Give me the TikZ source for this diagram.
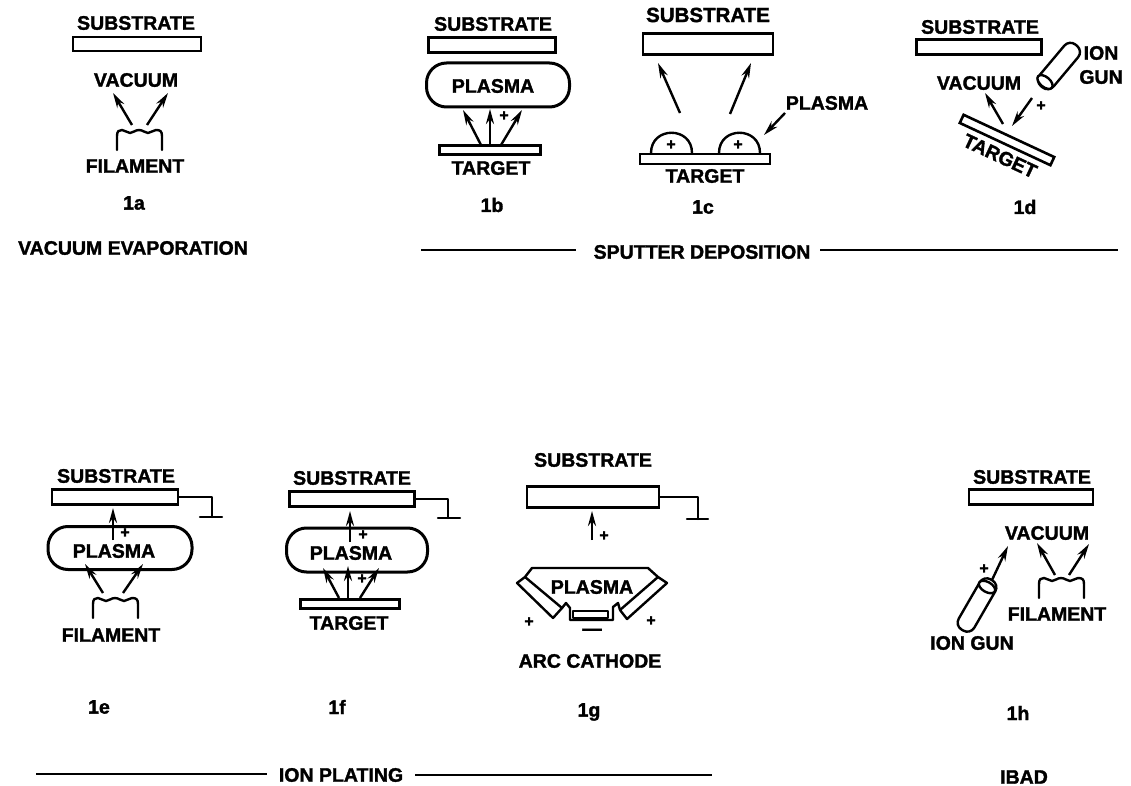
\documentclass[tikz,border=0pt]{standalone}
\usepackage{fontspec}
\setmainfont{Liberation Sans}[BoldFeatures={FakeBold=1.6}]
\usetikzlibrary{arrows.meta,shapes.geometric}
\newcommand{\arrw}[5]{\coordinate (#1t) at (#2,#3);\coordinate (#1h) at (#4,#5);\draw[flow] (#1t) -- (#1h);}
\newcommand{\lab}[4][]{\node[lbl,#1] (#2) at (#3) {#4};}
\newcommand{\plusm}[2]{\node[plusmark] (#1) at (#2) {+};}
\tikzset{
 x=1pt,y=-1pt,
 lbl/.style={font=\fontsize{19.5}{20}\selectfont\bfseries,inner sep=0pt,text=black},
 plusmark/.style={font=\fontsize{16}{16}\selectfont\bfseries,inner sep=0pt},
 bar/.style={draw=black,line width=2.6pt,fill=white,inner sep=0pt},
 plasmabox/.style={draw=black,line width=3pt,rounded corners=20pt,inner sep=0pt},
 flow/.style={line width=2.4pt,-{Stealth[length=15pt,width=8pt]}},
 wire/.style={line width=2.4pt,line cap=round,line join=round},
 rule/.style={line width=2pt},
 gunbody/.style={draw=black,line width=2.4pt,fill=white,rounded corners=8pt,inner sep=0pt,minimum height=18pt},
 gunend/.style={draw=black,line width=2.4pt,fill=white,ellipse,inner sep=0pt,minimum width=10pt,minimum height=18pt},
 coil/.pic={\draw[wire] (0,0) -- (0,-14) .. controls (0,-19) and (2,-20) .. (5,-20)
   .. controls (8,-20) and (10,-17) .. (13,-17) .. controls (16,-17) and (18,-20) .. (22,-20)
   .. controls (26,-20) and (28,-17) .. (31,-17) .. controls (34,-17) and (36,-20) .. (39,-20)
   .. controls (43,-20) and (45,-19) .. (45,-14) -- (45,0);}
}
\begin{document}
\begin{tikzpicture}
\useasboundingbox[fill=white] (0,0) rectangle (1131,786);
% 1a
\lab{a-s}{136,23}{SUBSTRATE}
\node[bar,minimum width=128pt,minimum height=14pt] (a-b) at (137,44) {};
\lab{a-v}{136,80}{VACUUM}
\arrw{aa}{132}{125}{113}{93}
\arrw{ab}{147}{125}{168}{93}
\pic at (117,150) {coil};
\lab{a-f}{135,166}{FILAMENT}
\lab{a-n}{134,203}{1a}
\lab{a-g}{133,248}{VACUUM EVAPORATION}
% 1b
\lab{b-s}{493,24}{SUBSTRATE}
\node[bar,minimum width=127pt,minimum height=15pt] (b-b) at (492,45) {};
\node[plasmabox,minimum width=143pt,minimum height=44pt] (b-p) at (498,85) {};
\lab{b-pl}{493,86}{PLASMA}
\arrw{ba}{481}{145}{463}{110}
\arrw{bb}{490}{145}{490}{109}
\arrw{bc}{501}{145}{522}{110}
\plusm{b-plus}{504,116}
\node[bar,minimum width=101pt,minimum height=9pt] (b-t) at (490,150) {};
\lab{b-tl}{491,168}{TARGET}
\lab{b-n}{492,205}{1b}
% 1c
\node[lbl,font=\fontsize{20.5}{21}\selectfont\bfseries] (c-s) at (708,15) {SUBSTRATE};
\node[bar,minimum width=130pt,minimum height=21pt] (c-b) at (708,44) {};
\arrw{ca}{680}{113}{658}{63}
\arrw{cb}{730}{114}{751}{63}
\draw[wire] (651,153) .. controls (651,126) and (692,126) .. (692,153);
\draw[wire] (719,153) .. controls (719,126) and (760,126) .. (760,153);
\plusm{c-p1}{671,145}
\plusm{c-p2}{738,145}
\node[bar,minimum width=130pt,minimum height=10pt] (c-t) at (705,159) {};
\lab{c-tl}{705,176}{TARGET}
\lab{c-pl}{827,103}{PLASMA}
\arrw{cc}{785}{113}{764}{135}
\lab{c-n}{703,207}{1c}
% 1d
\lab{d-s}{980,27}{SUBSTRATE}
\node[bar,minimum width=125pt,minimum height=15pt] (d-b) at (979,47) {};
\node[gunbody,rotate=50,minimum width=54pt] (d-g) at (1059,66) {};
\node[gunend,rotate=50] (d-e) at (1045,82) {};
\lab{d-io}{1101,53}{ION}
\lab{d-gu}{1101,77}{GUN}
\lab{d-v}{979,83}{VACUUM}
\arrw{da}{1003}{124}{985}{93}
\arrw{db}{1032}{98}{1012}{126}
\plusm{d-plus}{1041,106}
\node[bar,rotate=-25,minimum width=100pt,minimum height=9pt] (d-t) at (1007,140) {};
\lab[rotate=-25]{d-tl}{1000,156}{TARGET}
\lab{d-n}{1025,207}{1d}
% sputter group
\lab{sd}{702,252}{SPUTTER DEPOSITION}
\coordinate (sd-l) at (421,250);
\coordinate (sd-r) at (1118,250);
\draw[rule] (sd-l) -- (576,250);
\draw[rule] (820,250) -- (sd-r);
% 1e
\lab{e-s}{116,476}{SUBSTRATE}
\node[bar,minimum width=126pt,minimum height=15pt] (e-b) at (115,497) {};
\coordinate (e-g) at (212,517);
\draw[wire] (e-b.east) -| (e-g);
\draw[wire] (200,517) -- (222,517);
\node[plasmabox,minimum width=144pt,minimum height=43pt] (e-p) at (120,548) {};
\lab{e-pl}{114,551}{PLASMA}
\arrw{ea}{113}{540}{113}{508}
\plusm{e-plus}{125,533}
\arrw{eb}{103}{593}{85}{564}
\arrw{ec}{123}{593}{143}{564}
\pic at (93,618) {coil};
\lab{e-f}{111,635}{FILAMENT}
\lab{e-n}{99,707}{1e}
% 1f
\lab{f-s}{352,478}{SUBSTRATE}
\node[bar,minimum width=125pt,minimum height=15pt] (f-b) at (352,499) {};
\coordinate (f-g) at (448,518);
\draw[wire] (f-b.east) -| (f-g);
\draw[wire] (438,518) -- (460,518);
\node[plasmabox,minimum width=141pt,minimum height=44pt] (f-p) at (357,550) {};
\lab{f-pl}{351,553}{PLASMA}
\arrw{fa}{350}{542}{350}{511}
\plusm{f-plus}{363,535}
\arrw{fb}{339}{598}{323}{568}
\arrw{fc}{348}{598}{348}{566}
\arrw{fd}{360}{598}{379}{568}
\plusm{f-plus2}{362,579}
\node[bar,minimum width=99pt,minimum height=9pt] (f-t) at (350,604) {};
\lab{f-tl}{349,623}{TARGET}
\lab{f-n}{337,707}{1f}
% 1g
\lab{g-s}{593,460}{SUBSTRATE}
\node[bar,minimum width=132pt,minimum height=21pt] (g-b) at (593,497) {};
\coordinate (g-g) at (698,519);
\draw[wire] (g-b.east) -| (g-g);
\draw[wire] (687,519) -- (708,519);
\arrw{ga}{592}{540}{592}{511}
\plusm{g-plus}{604,536}
\draw[wire] (525,577) -- (532,568) -- (648,568) -- (658,577);
\draw[wire] (517,583) -- (525,577) -- (562,608) -- (553,618) -- cycle;
\draw[wire] (667,583) -- (658,577) -- (620,610) -- (627,619) -- cycle;
\draw[wire] (562,608) -- (566,603) -- (570,608) -- (570,620) -- (613,620) -- (613,607) -- (618,603) -- (620,610);
\draw[wire] (573,611) rectangle (608,618);
\lab{g-pl}{592,587}{PLASMA}
\plusm{g-p1}{529,622}
\plusm{g-p2}{651,621}
\lab{g-m}{592,632}{—}
\lab{g-a}{590,661}{ARC CATHODE}
\lab{g-n}{589,712}{1g}
% ion plating
\lab{ip}{341,775}{ION PLATING}
\coordinate (ip-l) at (36,774);
\coordinate (ip-r) at (712,775);
\draw[rule] (ip-l) -- (267,774);
\draw[rule] (415,775) -- (ip-r);
% 1h
\lab{h-s}{1032,477}{SUBSTRATE}
\node[bar,minimum width=124pt,minimum height=15pt] (h-b) at (1031,497) {};
\lab{h-v}{1047,533}{VACUUM}
\arrw{ha}{1055}{575}{1037}{543}
\arrw{hb}{1069}{575}{1089}{544}
\pic at (1039,598) {coil};
\lab{h-f}{1057,614}{FILAMENT}
\node[gunbody,rotate=60,minimum width=58pt] (h-g) at (977,605) {};
\node[gunend,rotate=60,minimum width=10pt] (h-e) at (987,587) {};
\arrw{hc}{992}{580}{1008}{546}
\plusm{h-plus}{984,569}
\lab{h-i}{972,643}{ION GUN}
\lab{h-n}{1018,713}{1h}
\lab{h-ib}{1024,777}{IBAD}
\end{tikzpicture}
\end{document}
